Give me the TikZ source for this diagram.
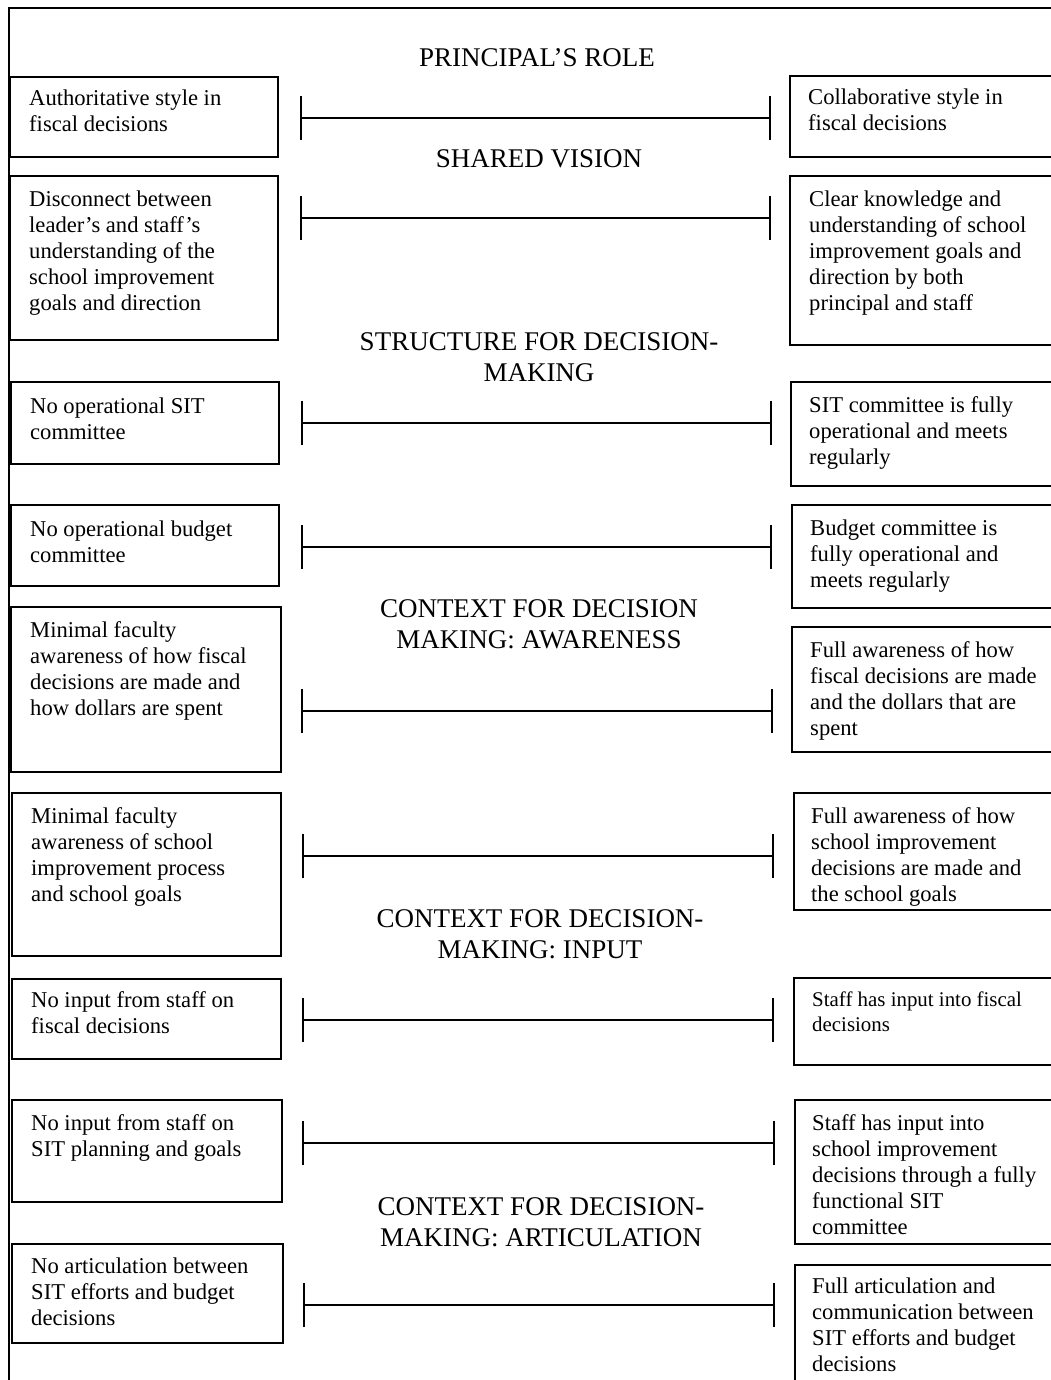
\documentclass[tikz,border=0pt]{standalone}
\usepackage{fontspec}
\setmainfont{Liberation Serif}
\usetikzlibrary{arrows.meta}
\newcommand\ttab[1]{\begin{tabular}[t]{@{}l@{}}#1\end{tabular}}
\newcommand\ctab[1]{\begin{tabular}[t]{@{}c@{}}#1\end{tabular}}
\tikzset{
  boxline/.style={draw=black,line width=1.7pt},
  frameline/.style={draw=black,line width=1.8pt},
  boxtext/.style={anchor=base west,inner sep=0pt,font=\fontsize{22.6}{26}\selectfont},
  smalltext/.style={anchor=base west,inner sep=0pt,font=\fontsize{20.9}{25}\selectfont},
  heading/.style={anchor=base,inner sep=0pt,font=\fontsize{27}{31}\selectfont},
  rangebar/.style={line width=1.8pt,{Bar[width=44pt,line width=1.8pt]}-{Bar[width=44pt,line width=1.8pt]}}
}
\begin{document}
\begin{tikzpicture}[x=1pt,y=-1pt]
\useasboundingbox (0,0) rectangle (1051,1380);
% frame
\draw[frameline] (9,1390) -- (9,8) -- (1060,8);

% headings
\node[heading] (H1) at (537,67) {PRINCIPAL’S ROLE};
\node[heading] (H2) at (539,168) {SHARED VISION};
\node[heading] (H3) at (539,350) {\ctab{STRUCTURE FOR DECISION-\\MAKING}};
\node[heading] (H4) at (539,617) {\ctab{CONTEXT FOR DECISION\\MAKING: AWARENESS}};
\node[heading] (H5) at (540,927) {\ctab{CONTEXT FOR DECISION-\\MAKING: INPUT}};
\node[heading] (H6) at (541,1215) {\ctab{CONTEXT FOR DECISION-\\MAKING: ARTICULATION}};

% left boxes
\draw[boxline] (10,77) rectangle (278,157);
\node[boxtext] (L1) at (29,106) {\ttab{Authoritative style in\\fiscal decisions}};
\draw[boxline] (10,176) rectangle (278,340);
\node[boxtext] (L2) at (29,207) {\ttab{Disconnect between\\leader’s and staff’s\\understanding of the\\school improvement\\goals and direction}};
\draw[boxline] (11,382) rectangle (279,464);
\node[boxtext] (L3) at (30,413) {\ttab{No operational SIT\\committee}};
\draw[boxline] (11,505) rectangle (279,586);
\node[boxtext] (L4) at (30,536) {\ttab{No operational budget\\committee}};
\draw[boxline] (11,607) rectangle (281,772);
\node[boxtext] (L5) at (30,637) {\ttab{Minimal faculty\\awareness of how fiscal\\decisions are made and\\how dollars are spent}};
\draw[boxline] (12,793) rectangle (281,956);
\node[boxtext] (L6) at (31,823) {\ttab{Minimal faculty\\awareness of school\\improvement process\\and school goals}};
\draw[boxline] (12,979) rectangle (281,1059);
\node[boxtext] (L7) at (31,1007) {\ttab{No input from staff on\\fiscal decisions}};
\draw[boxline] (12,1100) rectangle (282,1202);
\node[boxtext] (L8) at (31,1130) {\ttab{No input from staff on\\SIT planning and goals}};
\draw[boxline] (12,1244) rectangle (283,1343);
\node[boxtext] (L9) at (31,1273) {\ttab{No articulation between\\SIT efforts and budget\\decisions}};

% right boxes
\draw[boxline] (1070,76) -- (790,76) -- (790,157) -- (1070,157);
\node[boxtext] (R1) at (808,105) {\ttab{Collaborative style in\\fiscal decisions}};
\draw[boxline] (1070,176) -- (790,176) -- (790,345) -- (1070,345);
\node[boxtext] (R2) at (809,207) {\ttab{Clear knowledge and\\understanding of school\\improvement goals and\\direction by both\\principal and staff}};
\draw[boxline] (1070,382) -- (791,382) -- (791,486) -- (1070,486);
\node[boxtext] (R3) at (809,412) {\ttab{SIT committee is fully\\operational and meets\\regularly}};
\draw[boxline] (1070,505) -- (792,505) -- (792,608) -- (1070,608);
\node[boxtext] (R4) at (810,535) {\ttab{Budget committee is\\fully operational and\\meets regularly}};
\draw[boxline] (1070,627) -- (792,627) -- (792,752) -- (1070,752);
\node[boxtext] (R5) at (810,657) {\ttab{Full awareness of how\\fiscal decisions are made\\and the dollars that are\\spent}};
\draw[boxline] (1070,793) -- (794,793) -- (794,910) -- (1070,910);
\node[boxtext] (R6) at (811,823) {\ttab{Full awareness of how\\school improvement\\decisions are made and\\the school goals}};
\draw[boxline] (1070,978) -- (794,978) -- (794,1065) -- (1070,1065);
\node[smalltext] (R7) at (812,1006) {\ttab{Staff has input into fiscal\\decisions}};
\draw[boxline] (1070,1100) -- (795,1100) -- (795,1244) -- (1070,1244);
\node[boxtext] (R8) at (812,1130) {\ttab{Staff has input into\\school improvement\\decisions through a fully\\functional SIT\\committee}};
\draw[boxline] (1070,1265) -- (795,1265) -- (795,1400);
\node[boxtext] (R9) at (812,1293) {\ttab{Full articulation and\\communication between\\SIT efforts and budget\\decisions}};

% range bars
\coordinate (a1) at (300,118);  \coordinate (b1) at (771,118);
\coordinate (a2) at (300,218);  \coordinate (b2) at (771,218);
\coordinate (a3) at (301,423);  \coordinate (b3) at (772,423);
\coordinate (a4) at (301,547);  \coordinate (b4) at (772,547);
\coordinate (a5) at (301,711);  \coordinate (b5) at (773,711);
\coordinate (a6) at (302,856);  \coordinate (b6) at (774,856);
\coordinate (a7) at (302,1020); \coordinate (b7) at (774,1020);
\coordinate (a8) at (302,1143); \coordinate (b8) at (775,1143);
\coordinate (a9) at (303,1305); \coordinate (b9) at (775,1305);
\foreach \i in {1,...,9} \draw[rangebar] (a\i) -- (b\i);
\end{tikzpicture}
\end{document}
